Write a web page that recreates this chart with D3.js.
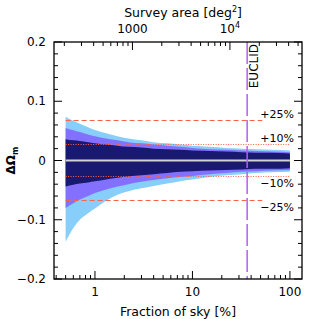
<!DOCTYPE html>
<html><head><meta charset="utf-8">
<script src="https://cdn.jsdelivr.net/npm/d3@7"></script>
<style>
html,body{margin:0;padding:0;background:#fff;}
svg text{font-family:"DejaVu Sans",sans-serif;fill:#000;}
</style></head>
<body><svg id="c" width="319" height="319"></svg>
<script>
// ---- data ----
const skyFrac   = [0.5, 0.6, 0.7, 0.85, 1, 1.3, 1.7, 2.2, 3, 4, 5.5, 7.5, 10, 15, 22, 32, 45, 65, 100];
const outerHi   = [0.074,0.067,0.062,0.056,0.0515,0.046,0.041,0.037,0.034,0.031,0.029,0.027,0.025,0.023,0.021,0.020,0.019,0.018,0.017];
const outerLo   = [-0.137,-0.114,-0.100,-0.089,-0.081,-0.068,-0.058,-0.052,-0.047,-0.043,-0.039,-0.035,-0.032,-0.028,-0.025,-0.023,-0.021,-0.020,-0.019];
const midHi     = [0.055,0.051,0.048,0.044,0.041,0.037,0.034,0.031,0.029,0.027,0.025,0.023,0.021,0.019,0.018,0.017,0.016,0.015,0.014];
const midLo     = [-0.080,-0.072,-0.066,-0.060,-0.055,-0.049,-0.044,-0.040,-0.036,-0.033,-0.030,-0.028,-0.026,-0.023,-0.021,-0.019,-0.018,-0.017,-0.016];
const innerHi   = [0.036,0.034,0.033,0.031,0.029,0.027,0.025,0.023,0.022,0.020,0.019,0.018,0.017,0.016,0.015,0.014,0.013,0.013,0.012];
const innerLo   = [-0.044,-0.041,-0.039,-0.037,-0.035,-0.032,-0.029,-0.027,-0.025,-0.023,-0.021,-0.019,-0.018,-0.017,-0.016,-0.015,-0.014,-0.014,-0.013];
const refLevels = [0.0675, 0.027, -0.027, -0.0675];
const refLabels = ["+25%", "+10%", "\u221210%", "\u221225%"];
const refDashed = [true, false, false, true];
const yTicks = [-0.2, -0.1, 0, 0.1, 0.2];
const yTickLabels = ["\u22120.2", "\u22120.1", "0", "0.1", "0.2"];
const xTicks = [1, 10, 100];
const xTickLabels = ["1", "10", "100"];
const topTicks = [1000, 10000];
const euclidFrac = 36.4;
const fullSkyDeg2 = 412.53; // deg^2 per percent of sky
const xDomain = [0.38, 133];
const yDomain = [-0.2, 0.2];

// ---- layout ----
const L = 54, R = 302, T = 42, B = 279;
const svg = d3.select("#c");
const x = d3.scaleLog().domain(xDomain).range([L, R]);
const xTop = d3.scaleLog().domain([xDomain[0]*fullSkyDeg2, xDomain[1]*fullSkyDeg2]).range([L, R]);
const y = d3.scaleLinear().domain(yDomain).range([B, T]);

const pts = skyFrac.map((f,i)=>({f, oh:outerHi[i], ol:outerLo[i], mh:midHi[i], ml:midLo[i], ih:innerHi[i], il:innerLo[i]}));
const area = (hi, lo) => d3.area().x(d=>x(d.f)).y0(d=>y(d[lo])).y1(d=>y(d[hi])).curve(d3.curveMonotoneX);

const g = svg.append("g");
g.append("path").datum(pts).attr("d", area("oh","ol")).attr("fill", "#87cefa");
g.append("path").datum(pts).attr("d", area("mh","ml")).attr("fill", "#8470ff");
g.append("path").datum(pts).attr("d", area("ih","il")).attr("fill", "#191970");

// zero line
g.append("line").attr("x1", x(skyFrac[0])).attr("x2", x(skyFrac[skyFrac.length-1]))
  .attr("y1", y(0)).attr("y2", y(0)).attr("stroke", "#d3d3d3").attr("stroke-width", 2);

// reference lines
refLevels.forEach((v,i)=>{
  g.append("line")
   .attr("x1", x(skyFrac[0])).attr("x2", refDashed[i] ? x(52) : x(100))
   .attr("y1", y(v)).attr("y2", y(v))
   .attr("stroke", "#ff6347").attr("stroke-width", 1)
   .attr("stroke-dasharray", refDashed[i] ? "5,3" : "1,1.5");
  const above = v > 0;
  g.append("text").attr("x", 294).attr("y", above ? y(v) - 3 : y(v) + 11)
   .attr("text-anchor", "end").attr("font-size", 11).text(refLabels[i]);
});

// Euclid line
g.append("line").attr("x1", x(euclidFrac)).attr("x2", x(euclidFrac)).attr("y1", T).attr("y2", B)
  .attr("stroke", "#b45cf5").attr("stroke-width", 1.5).attr("stroke-dasharray", "22,4");
g.append("text").attr("transform", `translate(${x(euclidFrac)+11},${T+2}) rotate(-90)`)
  .attr("text-anchor", "end").attr("font-size", 12).text("EUCLID");

// ---- axes ----
function minorLog(domain) {
  const out = [];
  for (let e = Math.floor(Math.log10(domain[0])); e <= Math.ceil(Math.log10(domain[1])); e++) {
    for (let m = 1; m < 10; m++) { const v = m * Math.pow(10, e); if (v >= domain[0] && v <= domain[1]) out.push(v); }
  }
  return out;
}
const ax = svg.append("g").attr("stroke", "#000");
// bottom
minorLog(xDomain).forEach(v=>{
  const major = xTicks.includes(v);
  const len = major ? 8 : 4;
  ax.append("line").attr("x1", x(v)).attr("x2", x(v)).attr("y1", B).attr("y2", B-len).attr("stroke-width",1);
});
// top
const topDom = xTop.domain();
minorLog(topDom).forEach(v=>{
  const major = topTicks.includes(v);
  const len = major ? 8 : 4;
  ax.append("line").attr("x1", xTop(v)).attr("x2", xTop(v)).attr("y1", T).attr("y2", T+len).attr("stroke-width",1);
});
// left/right
d3.range(-0.2, 0.2001, 0.02).forEach(v=>{
  const major = Math.abs(Math.round(v*10) - v*10) < 1e-6;
  const len = major ? 8 : 4;
  ax.append("line").attr("x1", L).attr("x2", L+len).attr("y1", y(v)).attr("y2", y(v)).attr("stroke-width",1);
  ax.append("line").attr("x1", R).attr("x2", R-len).attr("y1", y(v)).attr("y2", y(v)).attr("stroke-width",1);
});
// frame
svg.append("rect").attr("x", L).attr("y", T).attr("width", R-L).attr("height", B-T)
  .attr("fill", "none").attr("stroke", "#000").attr("stroke-width", 1.3);

// tick labels
yTicks.forEach((v,i)=>{
  svg.append("text").attr("x", L-8).attr("y", y(v)+4).attr("text-anchor","end").attr("font-size",12).text(yTickLabels[i]);
});
xTicks.forEach((v,i)=>{
  svg.append("text").attr("x", x(v)).attr("y", 296).attr("text-anchor","middle").attr("font-size",12).text(xTickLabels[i]);
});
svg.append("text").attr("x", xTop(1000)).attr("y", 33).attr("text-anchor","middle").attr("font-size",12).text("1000");
const t4 = svg.append("text").attr("x", xTop(10000)).attr("y", 33).attr("text-anchor","middle").attr("font-size",12);
t4.append("tspan").text("10");
t4.append("tspan").attr("font-size", 8).attr("dy", -5).text("4");

// axis titles
svg.append("text").attr("x", (L+R)/2).attr("y", 316).attr("text-anchor","middle").attr("font-size",12.5).text("Fraction of sky [%]");
const st = svg.append("text").attr("x", (L+R)/2 + 5).attr("y", 17).attr("text-anchor","middle").attr("font-size",12.5);
st.append("tspan").text("Survey area [deg");
st.append("tspan").attr("font-size", 8).attr("dy", -5).text("2");
st.append("tspan").attr("dy", 5).text("]");
const yt = svg.append("text").attr("transform", `translate(15,${(T+B)/2}) rotate(-90)`).attr("text-anchor","middle").attr("font-size",12).attr("font-weight","bold");
yt.append("tspan").text("\u0394\u03a9");
yt.append("tspan").attr("font-size", 8).attr("dy", 3).text("m");
</script></body></html>
